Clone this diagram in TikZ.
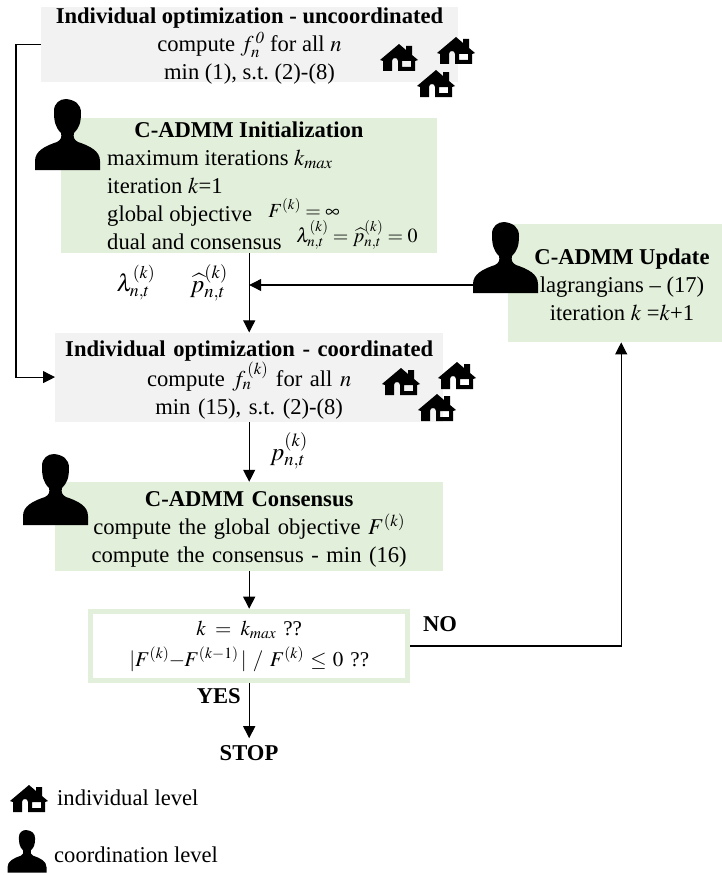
\documentclass[tikz,border=0pt]{standalone}
\usepackage{amsmath}
\usepackage{mathptmx}
\usepackage{fontspec}
\setmainfont{Liberation Serif}
\usepackage{tikz}
\usetikzlibrary{positioning}
\usetikzlibrary{arrows.meta}

\definecolor{coordgreen}{HTML}{E2EFDA}
\definecolor{indivgray}{HTML}{F2F2F2}
\frenchspacing
\newcommand{\toppad}{\rule{0pt}{21pt}}

\tikzset{
    houseicon/.pic={
        \fill[even odd rule] (0,16) -- (19,0) -- (26,6) -- (26,2) -- (32,2) -- (32,11) -- (38,16)
        -- (35,17) -- (35,27) -- (18,27) -- (18,17) .. controls (18,13) and (12,13) .. (12,17)
        -- (12,27) -- (3,27) -- (3,17) -- cycle
        (22,17) -- (31,17) -- (31,23) -- (22,23) -- cycle;
    },
    personicon/.pic={
        \fill (0,71) -- (0,62) .. controls (0,52) and (10,47) .. (22,43)
        .. controls (26,41) and (27,38) .. (26,34) .. controls (20,28) and (19,22) .. (19,12)
        .. controls (19,4) and (25,0) .. (31,0) .. controls (40,1) and (46,5) .. (46,14)
        .. controls (46,24) and (44,29) .. (39,34) .. controls (38,38) and (39,41) .. (43,43)
        .. controls (55,47) and (65,52) .. (65,62) -- (65,71) -- cycle;
    }
}

\begin{document}
\begin{tikzpicture}[
    x=1pt, y=-1pt,
    font=\fontsize{22.6}{28}\selectfont,
    indivbox/.style={fill=indivgray,align=center,inner sep=0pt,text width=388pt,minimum height=89pt},
    coordbox/.style={fill=coordgreen,align=center,inner sep=0pt,minimum height=89pt},
    myarrow/.style={-{Triangle[length=12pt,width=12pt]},line width=1.1pt},
    myline/.style={line width=1.1pt}
    ]

    \useasboundingbox (0,0) rectangle (722,875);

    \node[indivbox, text width=417pt, minimum height=75pt, anchor=north west] (uncoord) at (41,7) {};
    \node[align=center, inner sep=0pt] (uncoordtext) at (249.5,46)
    {\textbf{Individual optimization - uncoordinated}\\
    compute $f_{n}^{\,\mathit{0}}$ for all $n$\\
    min (1), s.t. (2)-(8)};

    \node[coordbox, text width=376pt, minimum height=135pt, anchor=north west] (init) at (61,118) {};
    \node[anchor=north, inner sep=0pt] (inittitle) at (249,122) {\textbf{C-ADMM Initialization}};
    \node[anchor=north west, align=left, inner sep=0pt] (initlines) at (107,149.5)
    {maximum iterations $k_{max}$\\
    iteration $k$=1\\
    global objective\\
    dual and consensus};
    \node[inner sep=0pt, font=\fontsize{20}{24}\selectfont] (initf) at (304,208) {$F^{(k)}=\infty$};
    \node[inner sep=0pt, font=\fontsize{20}{24}\selectfont] (initdual) at (357,235) {$\lambda_{n,t}^{(k)}=\widehat{p}_{n,t}^{(k)}=0$};

    \node[indivbox, below=79pt of init] (coord)
    {\toppad\textbf{Individual optimization - coordinated}\\
    compute $f_{n}^{\,(k)}$ for all $n$\\
    min (15), s.t. (2)-(8)};

    \node[coordbox, text width=388pt, below=60pt of coord] (consensus)
    {\toppad\textbf{C-ADMM Consensus}\\
    compute the global objective $F^{(k)}$\\
    compute the consensus - min (16)};

    \node[draw=coordgreen, line width=5.5pt, fill=white, align=center, inner sep=0pt,
    text width=317pt, minimum height=69pt, below=37.5pt of consensus, font=\fontsize{21}{28}\selectfont] (decide)
    {$k=k_{max}$ ??\\[3pt]
    $|F^{(k)}\!\!-\!\!F^{(k-1)}\,|\;/\;F^{(k)}\leq 0$ ??};

    \node[coordbox, text width=214pt, minimum height=118pt, anchor=north west] (update) at (508,224) {};
    \node[align=center, inner sep=0pt] (updatetext) at (622,285)
    {\textbf{C-ADMM Update}\\
    lagrangians -- (17)\\
    iteration $k$ =$k$+1};

    \node (stop) at (249,753) {\textbf{STOP}};
    \node[anchor=east, inner sep=0pt] (yes) at (241,696) {\textbf{YES}};
    \node (no) at (440,624) {\textbf{NO}};

    \node[font=\fontsize{24}{28}\selectfont] (lambdalabel) at (136,283) {$\lambda_{n,t}^{(k)}$};
    \node[font=\fontsize{25}{28}\selectfont] (phatlabel) at (209,283) {$\widehat{p}_{n,t}^{(k)}$};
    \node[font=\fontsize{25}{28}\selectfont] (plabel) at (289,451) {$p_{n,t}^{(k)}$};

    \node[anchor=west, inner sep=0pt] (indivlegend) at (57,798) {individual level};
    \node[anchor=west, inner sep=0pt] (coordlegend) at (54,855) {coordination level};

    \coordinate (loop) at (16,200);
    \coordinate (updateleft) at (475,285);
    \coordinate (merge) at (init.south |- updateleft);

    \draw[myline] (uncoord.west) -| (loop);
    \draw[myarrow] (loop) |- (coord.west);
    \draw[myarrow] (init.south) -- (coord.north);
    \draw[myarrow] (updateleft) -- (merge);
    \draw[myarrow] (coord.south) -- (consensus.north);
    \draw[myarrow] (consensus.south) -- (decide.north);
    \draw[myarrow] (decide.south) -- ++(0,55);
    \draw[myarrow] (decide.east) -| ([xshift=6pt]update.south);

    \pic at (380,44) {houseicon};
    \pic at (437,37) {houseicon};
    \pic at (417,70) {houseicon};
    \pic at (382,368) {houseicon};
    \pic at (438,362) {houseicon};
    \pic at (418,394) {houseicon};
    \pic at (10,785) {houseicon};

    \pic at (35,99) {personicon};
    \pic at (23,454) {personicon};
    \pic at (473,222) {personicon};
    \pic[scale=0.6] at (7.5,830) {personicon};

  \end{tikzpicture}
\end{document}
